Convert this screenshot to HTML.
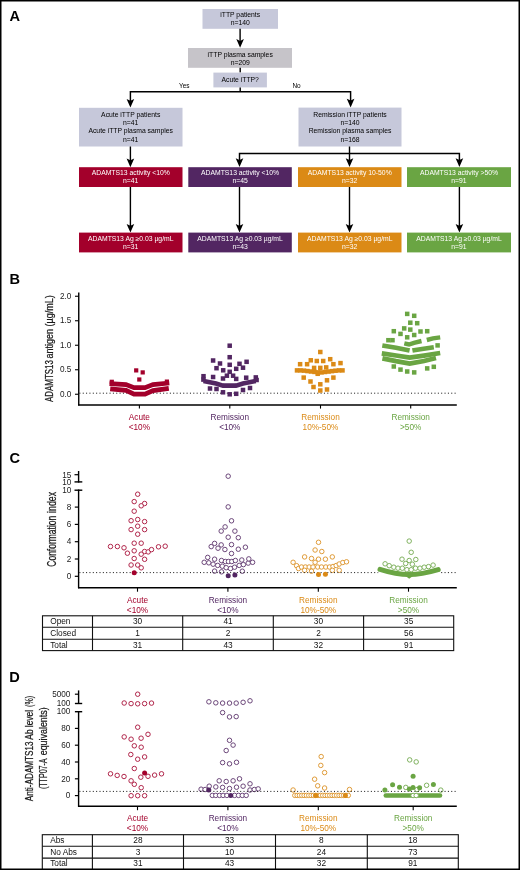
<!DOCTYPE html>
<html><head><meta charset="utf-8"><style>
html,body{margin:0;padding:0;background:#fff;width:520px;height:870px;overflow:hidden;}
svg{display:block;will-change:transform;}
</style></head><body>
<svg width="520" height="870" viewBox="0 0 520 870" font-family="'Liberation Sans', sans-serif">
<rect x="0" y="0" width="520" height="870" fill="#fff"/>
<text x="9.40" y="21.00" font-size="14.6" fill="#000" text-anchor="start" font-weight="bold">A</text>
<rect x="202.50" y="9.00" width="75.50" height="19.80" fill="#C6C8DA" />
<text x="240.20" y="17.00" font-size="6.8" fill="#000" text-anchor="middle" >iTTP patients</text>
<text x="240.20" y="25.00" font-size="6.8" fill="#000" text-anchor="middle" >n=140</text>
<line x1="240.10" y1="28.80" x2="240.10" y2="42.80" stroke="#000" stroke-width="1.4" />
<path d="M240.10,47.80 L236.30,39.10 L240.10,40.90 L243.90,39.10 Z" fill="#000"/>
<rect x="188.00" y="48.00" width="104.00" height="19.80" fill="#C6C4C9" />
<text x="240.20" y="56.60" font-size="6.8" fill="#000" text-anchor="middle" >iTTP plasma samples</text>
<text x="240.20" y="64.60" font-size="6.8" fill="#000" text-anchor="middle" >n=209</text>
<line x1="240.20" y1="67.80" x2="240.20" y2="72.60" stroke="#000" stroke-width="1.4" />
<rect x="213.40" y="72.60" width="53.50" height="14.80" fill="#C6C8DA" />
<text x="240.20" y="82.20" font-size="6.8" fill="#000" text-anchor="middle" >Acute iTTP?</text>
<line x1="240.20" y1="87.40" x2="240.20" y2="91.80" stroke="#000" stroke-width="1.4" />
<path d="M130.4,102.6 V91.8 H350.6 V102.6" fill="none" stroke="#000" stroke-width="1.45" stroke-linejoin="miter"/>
<text x="184.30" y="88.00" font-size="6.46" fill="#000" text-anchor="middle" >Yes</text>
<text x="296.50" y="88.00" font-size="6.46" fill="#000" text-anchor="middle" >No</text>
<path d="M130.40,107.60 L126.60,98.90 L130.40,100.70 L134.20,98.90 Z" fill="#000"/>
<path d="M350.60,107.40 L346.80,98.70 L350.60,100.50 L354.40,98.70 Z" fill="#000"/>
<rect x="79.00" y="107.80" width="103.50" height="38.70" fill="#C6C8DA" />
<text x="130.70" y="117.20" font-size="6.8" fill="#000" text-anchor="middle" >Acute iTTP patients</text>
<text x="130.70" y="125.30" font-size="6.8" fill="#000" text-anchor="middle" >n=41</text>
<text x="130.70" y="133.40" font-size="6.8" fill="#000" text-anchor="middle" >Acute iTTP plasma samples</text>
<text x="130.70" y="141.50" font-size="6.8" fill="#000" text-anchor="middle" >n=41</text>
<rect x="298.50" y="107.60" width="103.00" height="38.90" fill="#C6C8DA" />
<text x="350.00" y="117.20" font-size="6.8" fill="#000" text-anchor="middle" >Remission iTTP patients</text>
<text x="350.00" y="125.30" font-size="6.8" fill="#000" text-anchor="middle" >n=140</text>
<text x="350.00" y="133.40" font-size="6.8" fill="#000" text-anchor="middle" >Remission plasma samples</text>
<text x="350.00" y="141.50" font-size="6.8" fill="#000" text-anchor="middle" >n=168</text>
<line x1="130.40" y1="146.50" x2="130.40" y2="162.20" stroke="#000" stroke-width="1.4" />
<path d="M130.40,167.20 L126.60,158.50 L130.40,160.30 L134.20,158.50 Z" fill="#000"/>
<line x1="349.50" y1="146.50" x2="349.50" y2="162.20" stroke="#000" stroke-width="1.4" />
<path d="M239.5,162.2 V153.4 H459.4 V162.2" fill="none" stroke="#000" stroke-width="1.45" stroke-linejoin="miter"/>
<path d="M239.50,167.00 L235.70,158.30 L239.50,160.10 L243.30,158.30 Z" fill="#000"/>
<path d="M349.50,167.00 L345.70,158.30 L349.50,160.10 L353.30,158.30 Z" fill="#000"/>
<path d="M459.40,167.00 L455.60,158.30 L459.40,160.10 L463.20,158.30 Z" fill="#000"/>
<rect x="79.00" y="167.20" width="103.50" height="19.80" fill="#A3002B" />
<text x="130.75" y="175.40" font-size="6.8" fill="#fff" text-anchor="middle" >ADAMTS13 activity &lt;10%</text>
<text x="130.75" y="183.30" font-size="6.8" fill="#fff" text-anchor="middle" >n=41</text>
<line x1="130.40" y1="187.00" x2="130.40" y2="227.60" stroke="#000" stroke-width="1.4" />
<path d="M130.40,232.60 L126.60,223.90 L130.40,225.70 L134.20,223.90 Z" fill="#000"/>
<rect x="79.00" y="232.60" width="103.50" height="19.80" fill="#A3002B" />
<text x="130.75" y="240.70" font-size="6.8" fill="#fff" text-anchor="middle" >ADAMTS13 Ag ≥0.03 µg/mL</text>
<text x="130.75" y="248.70" font-size="6.8" fill="#fff" text-anchor="middle" >n=31</text>
<rect x="188.30" y="167.20" width="103.50" height="19.80" fill="#522662" />
<text x="240.05" y="175.40" font-size="6.8" fill="#fff" text-anchor="middle" >ADAMTS13 activity &lt;10%</text>
<text x="240.05" y="183.30" font-size="6.8" fill="#fff" text-anchor="middle" >n=45</text>
<line x1="239.50" y1="187.00" x2="239.50" y2="227.60" stroke="#000" stroke-width="1.4" />
<path d="M239.50,232.60 L235.70,223.90 L239.50,225.70 L243.30,223.90 Z" fill="#000"/>
<rect x="188.30" y="232.60" width="103.50" height="19.80" fill="#522662" />
<text x="240.05" y="240.70" font-size="6.8" fill="#fff" text-anchor="middle" >ADAMTS13 Ag ≥0.03 µg/mL</text>
<text x="240.05" y="248.70" font-size="6.8" fill="#fff" text-anchor="middle" >n=43</text>
<rect x="298.00" y="167.20" width="103.50" height="19.80" fill="#DB8A16" />
<text x="349.75" y="175.40" font-size="6.8" fill="#fff" text-anchor="middle" >ADAMTS13 activity 10-50%</text>
<text x="349.75" y="183.30" font-size="6.8" fill="#fff" text-anchor="middle" >n=32</text>
<line x1="349.50" y1="187.00" x2="349.50" y2="227.60" stroke="#000" stroke-width="1.4" />
<path d="M349.50,232.60 L345.70,223.90 L349.50,225.70 L353.30,223.90 Z" fill="#000"/>
<rect x="298.00" y="232.60" width="103.50" height="19.80" fill="#DB8A16" />
<text x="349.75" y="240.70" font-size="6.8" fill="#fff" text-anchor="middle" >ADAMTS13 Ag ≥0.03 µg/mL</text>
<text x="349.75" y="248.70" font-size="6.8" fill="#fff" text-anchor="middle" >n=32</text>
<rect x="407.00" y="167.20" width="104.00" height="19.80" fill="#6AA543" />
<text x="459.00" y="175.40" font-size="6.8" fill="#fff" text-anchor="middle" >ADAMTS13 activity &gt;50%</text>
<text x="459.00" y="183.30" font-size="6.8" fill="#fff" text-anchor="middle" >n=91</text>
<line x1="459.40" y1="187.00" x2="459.40" y2="227.60" stroke="#000" stroke-width="1.4" />
<path d="M459.40,232.60 L455.60,223.90 L459.40,225.70 L463.20,223.90 Z" fill="#000"/>
<rect x="407.00" y="232.60" width="104.00" height="19.80" fill="#6AA543" />
<text x="459.00" y="240.70" font-size="6.8" fill="#fff" text-anchor="middle" >ADAMTS13 Ag ≥0.03 µg/mL</text>
<text x="459.00" y="248.70" font-size="6.8" fill="#fff" text-anchor="middle" >n=91</text>
<text x="9.60" y="284.20" font-size="14.6" fill="#000" text-anchor="start" font-weight="bold">B</text>
<line x1="78.75" y1="292.50" x2="78.75" y2="405.60" stroke="#000" stroke-width="1.4" />
<line x1="78.10" y1="405.00" x2="456.80" y2="405.00" stroke="#000" stroke-width="1.4" />
<line x1="75.00" y1="394.25" x2="78.50" y2="394.25" stroke="#000" stroke-width="1.1" />
<text x="71.40" y="396.95" font-size="8.2" fill="#222" text-anchor="end" >0.0</text>
<line x1="75.00" y1="369.75" x2="78.50" y2="369.75" stroke="#000" stroke-width="1.1" />
<text x="71.40" y="372.45" font-size="8.2" fill="#222" text-anchor="end" >0.5</text>
<line x1="75.00" y1="345.25" x2="78.50" y2="345.25" stroke="#000" stroke-width="1.1" />
<text x="71.40" y="347.95" font-size="8.2" fill="#222" text-anchor="end" >1.0</text>
<line x1="75.00" y1="320.75" x2="78.50" y2="320.75" stroke="#000" stroke-width="1.1" />
<text x="71.40" y="323.45" font-size="8.2" fill="#222" text-anchor="end" >1.5</text>
<line x1="75.00" y1="296.25" x2="78.50" y2="296.25" stroke="#000" stroke-width="1.1" />
<text x="71.40" y="298.95" font-size="8.2" fill="#222" text-anchor="end" >2.0</text>
<text x="0" y="0" font-size="10.9" fill="#1a1a1a" stroke="#1a1a1a" stroke-width="0.25" text-anchor="start" transform="translate(53.0,401.9) rotate(-90)" textLength="41.70" lengthAdjust="spacingAndGlyphs">ADAMTS13</text>
<text x="0" y="0" font-size="10.9" fill="#1a1a1a" stroke="#1a1a1a" stroke-width="0.25" text-anchor="start" transform="translate(53.0,358.4) rotate(-90)" textLength="29.50" lengthAdjust="spacingAndGlyphs">antigen</text>
<text x="0" y="0" font-size="10.9" fill="#1a1a1a" stroke="#1a1a1a" stroke-width="0.25" text-anchor="start" transform="translate(53.0,326.5) rotate(-90)" textLength="31.20" lengthAdjust="spacingAndGlyphs">(µg/mL)</text>
<line x1="139.40" y1="405.00" x2="139.40" y2="408.60" stroke="#000" stroke-width="1.1" />
<line x1="229.80" y1="405.00" x2="229.80" y2="408.60" stroke="#000" stroke-width="1.1" />
<line x1="320.50" y1="405.00" x2="320.50" y2="408.60" stroke="#000" stroke-width="1.1" />
<line x1="410.70" y1="405.00" x2="410.70" y2="408.60" stroke="#000" stroke-width="1.1" />
<text x="139.40" y="420.00" font-size="8.25" fill="#A3002B" text-anchor="middle" >Acute</text>
<text x="139.40" y="429.60" font-size="8.25" fill="#A3002B" text-anchor="middle" >&lt;10%</text>
<text x="229.80" y="420.00" font-size="8.25" fill="#522662" text-anchor="middle" >Remission</text>
<text x="229.80" y="429.60" font-size="8.25" fill="#522662" text-anchor="middle" >&lt;10%</text>
<text x="320.50" y="420.00" font-size="8.25" fill="#DB8A16" text-anchor="middle" >Remission</text>
<text x="320.50" y="429.60" font-size="8.25" fill="#DB8A16" text-anchor="middle" >10%-50%</text>
<text x="410.70" y="420.00" font-size="8.25" fill="#6AA543" text-anchor="middle" >Remission</text>
<text x="410.70" y="429.60" font-size="8.25" fill="#6AA543" text-anchor="middle" >&gt;50%</text>
<text x="9.40" y="463.20" font-size="14.6" fill="#000" text-anchor="start" font-weight="bold">C</text>
<line x1="78.60" y1="471.00" x2="78.60" y2="482.60" stroke="#000" stroke-width="1.4" />
<line x1="74.50" y1="474.70" x2="78.60" y2="474.70" stroke="#000" stroke-width="1.2" />
<line x1="74.50" y1="481.90" x2="82.30" y2="481.90" stroke="#000" stroke-width="1.4" />
<line x1="78.60" y1="489.50" x2="78.60" y2="588.30" stroke="#000" stroke-width="1.4" />
<line x1="74.50" y1="490.20" x2="82.30" y2="490.20" stroke="#000" stroke-width="1.4" />
<line x1="74.80" y1="576.30" x2="78.60" y2="576.30" stroke="#000" stroke-width="1.2" />
<text x="71.40" y="579.00" font-size="8.2" fill="#222" text-anchor="end" >0</text>
<line x1="74.80" y1="559.00" x2="78.60" y2="559.00" stroke="#000" stroke-width="1.2" />
<text x="71.40" y="561.70" font-size="8.2" fill="#222" text-anchor="end" >2</text>
<line x1="74.80" y1="541.70" x2="78.60" y2="541.70" stroke="#000" stroke-width="1.2" />
<text x="71.40" y="544.40" font-size="8.2" fill="#222" text-anchor="end" >4</text>
<line x1="74.80" y1="524.40" x2="78.60" y2="524.40" stroke="#000" stroke-width="1.2" />
<text x="71.40" y="527.10" font-size="8.2" fill="#222" text-anchor="end" >6</text>
<line x1="74.80" y1="507.10" x2="78.60" y2="507.10" stroke="#000" stroke-width="1.2" />
<text x="71.40" y="509.80" font-size="8.2" fill="#222" text-anchor="end" >8</text>
<text x="71.40" y="492.50" font-size="8.2" fill="#222" text-anchor="end" >10</text>
<text x="71.40" y="477.60" font-size="8.2" fill="#222" text-anchor="end" >15</text>
<text x="71.40" y="484.60" font-size="8.2" fill="#222" text-anchor="end" >10</text>
<line x1="78.00" y1="587.70" x2="456.80" y2="587.70" stroke="#000" stroke-width="1.4" />
<text x="0" y="0" font-size="11.9" fill="#1a1a1a" stroke="#1a1a1a" stroke-width="0.25" text-anchor="start" transform="translate(55.6,566.7) rotate(-90)" textLength="50.90" lengthAdjust="spacingAndGlyphs">Conformation</text>
<text x="0" y="0" font-size="11.9" fill="#1a1a1a" stroke="#1a1a1a" stroke-width="0.25" text-anchor="start" transform="translate(55.6,512.9) rotate(-90)" textLength="21.00" lengthAdjust="spacingAndGlyphs">index</text>
<line x1="137.50" y1="587.70" x2="137.50" y2="591.70" stroke="#000" stroke-width="1.1" />
<line x1="227.90" y1="587.70" x2="227.90" y2="591.70" stroke="#000" stroke-width="1.1" />
<line x1="318.30" y1="587.70" x2="318.30" y2="591.70" stroke="#000" stroke-width="1.1" />
<line x1="408.50" y1="587.70" x2="408.50" y2="591.70" stroke="#000" stroke-width="1.1" />
<text x="137.50" y="602.80" font-size="8.25" fill="#A3002B" text-anchor="middle" >Acute</text>
<text x="137.50" y="612.50" font-size="8.25" fill="#A3002B" text-anchor="middle" >&lt;10%</text>
<text x="227.90" y="602.80" font-size="8.25" fill="#522662" text-anchor="middle" >Remission</text>
<text x="227.90" y="612.50" font-size="8.25" fill="#522662" text-anchor="middle" >&lt;10%</text>
<text x="318.30" y="602.80" font-size="8.25" fill="#DB8A16" text-anchor="middle" >Remission</text>
<text x="318.30" y="612.50" font-size="8.25" fill="#DB8A16" text-anchor="middle" >10%-50%</text>
<text x="408.50" y="602.80" font-size="8.25" fill="#6AA543" text-anchor="middle" >Remission</text>
<text x="408.50" y="612.50" font-size="8.25" fill="#6AA543" text-anchor="middle" >&gt;50%</text>
<g stroke="#111" stroke-width="1.1" fill="none">
<rect x="42.5" y="615.80" width="411.20" height="34.80"/>
<line x1="42.5" y1="627.30" x2="453.7" y2="627.30"/>
<line x1="42.5" y1="639.20" x2="453.7" y2="639.20"/>
<line x1="92.5" y1="615.80" x2="92.5" y2="650.60"/>
<line x1="182.7" y1="615.80" x2="182.7" y2="650.60"/>
<line x1="273.3" y1="615.80" x2="273.3" y2="650.60"/>
<line x1="363.6" y1="615.80" x2="363.6" y2="650.60"/>
</g>
<text x="50.20" y="624.20" font-size="8.3" fill="#111" text-anchor="start" >Open</text>
<text x="137.60" y="624.20" font-size="8.3" fill="#111" text-anchor="middle" >30</text>
<text x="228.00" y="624.20" font-size="8.3" fill="#111" text-anchor="middle" >41</text>
<text x="318.45" y="624.20" font-size="8.3" fill="#111" text-anchor="middle" >30</text>
<text x="408.65" y="624.20" font-size="8.3" fill="#111" text-anchor="middle" >35</text>
<text x="50.20" y="636.10" font-size="8.3" fill="#111" text-anchor="start" >Closed</text>
<text x="137.60" y="636.10" font-size="8.3" fill="#111" text-anchor="middle" >1</text>
<text x="228.00" y="636.10" font-size="8.3" fill="#111" text-anchor="middle" >2</text>
<text x="318.45" y="636.10" font-size="8.3" fill="#111" text-anchor="middle" >2</text>
<text x="408.65" y="636.10" font-size="8.3" fill="#111" text-anchor="middle" >56</text>
<text x="50.20" y="647.50" font-size="8.3" fill="#111" text-anchor="start" >Total</text>
<text x="137.60" y="647.50" font-size="8.3" fill="#111" text-anchor="middle" >31</text>
<text x="228.00" y="647.50" font-size="8.3" fill="#111" text-anchor="middle" >43</text>
<text x="318.45" y="647.50" font-size="8.3" fill="#111" text-anchor="middle" >32</text>
<text x="408.65" y="647.50" font-size="8.3" fill="#111" text-anchor="middle" >91</text>
<path d="M380,569.4 C390,572.6 400,574.6 409.2,574.6 C418.5,574.6 428,572.6 438.2,569.6" fill="none" stroke="#6AA543" stroke-width="5.0" stroke-linecap="round"/>
<path d="M405.5,576 L409.2,578.8 L412.9,576 Z" fill="#6AA543"/>
<text x="9.30" y="682.30" font-size="14.6" fill="#000" text-anchor="start" font-weight="bold">D</text>
<line x1="78.60" y1="690.40" x2="78.60" y2="703.80" stroke="#000" stroke-width="1.4" />
<line x1="74.90" y1="694.20" x2="78.60" y2="694.20" stroke="#000" stroke-width="1.2" />
<line x1="74.90" y1="703.50" x2="82.20" y2="703.50" stroke="#000" stroke-width="1.4" />
<line x1="78.60" y1="711.00" x2="78.60" y2="806.90" stroke="#000" stroke-width="1.4" />
<line x1="74.90" y1="711.70" x2="82.20" y2="711.70" stroke="#000" stroke-width="1.4" />
<line x1="74.90" y1="795.60" x2="78.60" y2="795.60" stroke="#000" stroke-width="1.2" />
<text x="70.40" y="798.40" font-size="8.2" fill="#222" text-anchor="end" >0</text>
<line x1="74.90" y1="778.80" x2="78.60" y2="778.80" stroke="#000" stroke-width="1.2" />
<text x="70.40" y="781.60" font-size="8.2" fill="#222" text-anchor="end" >20</text>
<line x1="74.90" y1="762.00" x2="78.60" y2="762.00" stroke="#000" stroke-width="1.2" />
<text x="70.40" y="764.80" font-size="8.2" fill="#222" text-anchor="end" >40</text>
<line x1="74.90" y1="745.20" x2="78.60" y2="745.20" stroke="#000" stroke-width="1.2" />
<text x="70.40" y="748.00" font-size="8.2" fill="#222" text-anchor="end" >60</text>
<line x1="74.90" y1="728.40" x2="78.60" y2="728.40" stroke="#000" stroke-width="1.2" />
<text x="70.40" y="731.20" font-size="8.2" fill="#222" text-anchor="end" >80</text>
<text x="70.40" y="714.30" font-size="8.2" fill="#222" text-anchor="end" >100</text>
<text x="70.40" y="697.00" font-size="8.2" fill="#222" text-anchor="end" >5000</text>
<text x="70.40" y="705.70" font-size="8.2" fill="#222" text-anchor="end" >100</text>
<line x1="78.00" y1="806.30" x2="456.80" y2="806.30" stroke="#000" stroke-width="1.4" />
<text x="0" y="0" font-size="10.8" fill="#1a1a1a" stroke="#1a1a1a" stroke-width="0.25" text-anchor="start" transform="translate(33.0,801.2) rotate(-90)" textLength="59.80" lengthAdjust="spacingAndGlyphs">Anti-ADAMTS13</text>
<text x="0" y="0" font-size="10.8" fill="#1a1a1a" stroke="#1a1a1a" stroke-width="0.25" text-anchor="start" transform="translate(33.0,739.7) rotate(-90)" textLength="10.40" lengthAdjust="spacingAndGlyphs">Ab</text>
<text x="0" y="0" font-size="10.8" fill="#1a1a1a" stroke="#1a1a1a" stroke-width="0.25" text-anchor="start" transform="translate(33.0,727.2) rotate(-90)" textLength="17.20" lengthAdjust="spacingAndGlyphs">level</text>
<text x="0" y="0" font-size="10.8" fill="#1a1a1a" stroke="#1a1a1a" stroke-width="0.25" text-anchor="start" transform="translate(33.0,706.9) rotate(-90)" textLength="11.00" lengthAdjust="spacingAndGlyphs">(%)</text>
<text x="0" y="0" font-size="10.8" fill="#1a1a1a" stroke="#1a1a1a" stroke-width="0.25" text-anchor="start" transform="translate(46.5,789.1) rotate(-90)" textLength="30.70" lengthAdjust="spacingAndGlyphs">(TTP07-A</text>
<text x="0" y="0" font-size="10.8" fill="#1a1a1a" stroke="#1a1a1a" stroke-width="0.25" text-anchor="start" transform="translate(46.5,755.3) rotate(-90)" textLength="48.00" lengthAdjust="spacingAndGlyphs">equivalents)</text>
<line x1="137.50" y1="806.30" x2="137.50" y2="810.20" stroke="#000" stroke-width="1.1" />
<line x1="227.90" y1="806.30" x2="227.90" y2="810.20" stroke="#000" stroke-width="1.1" />
<line x1="318.30" y1="806.30" x2="318.30" y2="810.20" stroke="#000" stroke-width="1.1" />
<line x1="413.20" y1="806.30" x2="413.20" y2="810.20" stroke="#000" stroke-width="1.1" />
<text x="137.50" y="821.10" font-size="8.25" fill="#A3002B" text-anchor="middle" >Acute</text>
<text x="137.50" y="830.60" font-size="8.25" fill="#A3002B" text-anchor="middle" >&lt;10%</text>
<text x="227.90" y="821.10" font-size="8.25" fill="#522662" text-anchor="middle" >Remission</text>
<text x="227.90" y="830.60" font-size="8.25" fill="#522662" text-anchor="middle" >&lt;10%</text>
<text x="318.30" y="821.10" font-size="8.25" fill="#DB8A16" text-anchor="middle" >Remission</text>
<text x="318.30" y="830.60" font-size="8.25" fill="#DB8A16" text-anchor="middle" >10%-50%</text>
<text x="413.20" y="821.10" font-size="8.25" fill="#6AA543" text-anchor="middle" >Remission</text>
<text x="413.20" y="830.60" font-size="8.25" fill="#6AA543" text-anchor="middle" >&gt;50%</text>
<g stroke="#111" stroke-width="1.1" fill="none">
<rect x="42.3" y="834.70" width="416.00" height="34.80"/>
<line x1="42.3" y1="846.30" x2="458.3" y2="846.30"/>
<line x1="42.3" y1="858.10" x2="458.3" y2="858.10"/>
<line x1="92.4" y1="834.70" x2="92.4" y2="869.50"/>
<line x1="183.5" y1="834.70" x2="183.5" y2="869.50"/>
<line x1="275.5" y1="834.70" x2="275.5" y2="869.50"/>
<line x1="367.3" y1="834.70" x2="367.3" y2="869.50"/>
</g>
<text x="50.20" y="843.20" font-size="8.3" fill="#111" text-anchor="start" >Abs</text>
<text x="137.95" y="843.20" font-size="8.3" fill="#111" text-anchor="middle" >28</text>
<text x="229.50" y="843.20" font-size="8.3" fill="#111" text-anchor="middle" >33</text>
<text x="321.40" y="843.20" font-size="8.3" fill="#111" text-anchor="middle" >8</text>
<text x="412.80" y="843.20" font-size="8.3" fill="#111" text-anchor="middle" >18</text>
<text x="50.20" y="855.00" font-size="8.3" fill="#111" text-anchor="start" >No Abs</text>
<text x="137.95" y="855.00" font-size="8.3" fill="#111" text-anchor="middle" >3</text>
<text x="229.50" y="855.00" font-size="8.3" fill="#111" text-anchor="middle" >10</text>
<text x="321.40" y="855.00" font-size="8.3" fill="#111" text-anchor="middle" >24</text>
<text x="412.80" y="855.00" font-size="8.3" fill="#111" text-anchor="middle" >73</text>
<text x="50.20" y="866.40" font-size="8.3" fill="#111" text-anchor="start" >Total</text>
<text x="137.95" y="866.40" font-size="8.3" fill="#111" text-anchor="middle" >31</text>
<text x="229.50" y="866.40" font-size="8.3" fill="#111" text-anchor="middle" >43</text>
<text x="321.40" y="866.40" font-size="8.3" fill="#111" text-anchor="middle" >32</text>
<text x="412.80" y="866.40" font-size="8.3" fill="#111" text-anchor="middle" >91</text>
<line x1="385.8" y1="795.5" x2="440" y2="795.5" stroke="#6AA543" stroke-width="4.6" stroke-linecap="round"/>
<circle cx="137.70" cy="494.20" r="2.25" fill="#fff" stroke="#B1264B" stroke-width="1.0"/>
<circle cx="134.20" cy="501.60" r="2.25" fill="#fff" stroke="#B1264B" stroke-width="1.0"/>
<circle cx="144.60" cy="503.50" r="2.25" fill="#fff" stroke="#B1264B" stroke-width="1.0"/>
<circle cx="141.20" cy="505.80" r="2.25" fill="#fff" stroke="#B1264B" stroke-width="1.0"/>
<circle cx="134.20" cy="511.20" r="2.25" fill="#fff" stroke="#B1264B" stroke-width="1.0"/>
<circle cx="131.10" cy="520.70" r="2.25" fill="#fff" stroke="#B1264B" stroke-width="1.0"/>
<circle cx="137.70" cy="519.50" r="2.25" fill="#fff" stroke="#B1264B" stroke-width="1.0"/>
<circle cx="144.60" cy="521.60" r="2.25" fill="#fff" stroke="#B1264B" stroke-width="1.0"/>
<circle cx="137.70" cy="526.20" r="2.25" fill="#fff" stroke="#B1264B" stroke-width="1.0"/>
<circle cx="131.10" cy="529.60" r="2.25" fill="#fff" stroke="#B1264B" stroke-width="1.0"/>
<circle cx="144.60" cy="529.60" r="2.25" fill="#fff" stroke="#B1264B" stroke-width="1.0"/>
<circle cx="137.70" cy="534.20" r="2.25" fill="#fff" stroke="#B1264B" stroke-width="1.0"/>
<circle cx="134.20" cy="543.20" r="2.25" fill="#fff" stroke="#B1264B" stroke-width="1.0"/>
<circle cx="141.20" cy="543.20" r="2.25" fill="#fff" stroke="#B1264B" stroke-width="1.0"/>
<circle cx="110.50" cy="546.50" r="2.25" fill="#fff" stroke="#B1264B" stroke-width="1.0"/>
<circle cx="117.40" cy="546.50" r="2.25" fill="#fff" stroke="#B1264B" stroke-width="1.0"/>
<circle cx="124.00" cy="547.80" r="2.25" fill="#fff" stroke="#B1264B" stroke-width="1.0"/>
<circle cx="158.50" cy="546.80" r="2.25" fill="#fff" stroke="#B1264B" stroke-width="1.0"/>
<circle cx="165.20" cy="546.20" r="2.25" fill="#fff" stroke="#B1264B" stroke-width="1.0"/>
<circle cx="127.40" cy="553.20" r="2.25" fill="#fff" stroke="#B1264B" stroke-width="1.0"/>
<circle cx="134.20" cy="550.80" r="2.25" fill="#fff" stroke="#B1264B" stroke-width="1.0"/>
<circle cx="144.60" cy="551.50" r="2.25" fill="#fff" stroke="#B1264B" stroke-width="1.0"/>
<circle cx="148.20" cy="551.90" r="2.25" fill="#fff" stroke="#B1264B" stroke-width="1.0"/>
<circle cx="151.50" cy="549.60" r="2.25" fill="#fff" stroke="#B1264B" stroke-width="1.0"/>
<circle cx="141.20" cy="554.20" r="2.25" fill="#fff" stroke="#B1264B" stroke-width="1.0"/>
<circle cx="134.20" cy="558.50" r="2.25" fill="#fff" stroke="#B1264B" stroke-width="1.0"/>
<circle cx="144.60" cy="559.30" r="2.25" fill="#fff" stroke="#B1264B" stroke-width="1.0"/>
<circle cx="131.10" cy="565.00" r="2.25" fill="#fff" stroke="#B1264B" stroke-width="1.0"/>
<circle cx="137.70" cy="565.00" r="2.25" fill="#fff" stroke="#B1264B" stroke-width="1.0"/>
<circle cx="141.20" cy="567.80" r="2.25" fill="#fff" stroke="#B1264B" stroke-width="1.0"/>
<circle cx="228.20" cy="476.20" r="2.25" fill="#fff" stroke="#6C477A" stroke-width="1.0"/>
<circle cx="228.20" cy="506.90" r="2.25" fill="#fff" stroke="#6C477A" stroke-width="1.0"/>
<circle cx="231.50" cy="520.80" r="2.25" fill="#fff" stroke="#6C477A" stroke-width="1.0"/>
<circle cx="225.10" cy="526.90" r="2.25" fill="#fff" stroke="#6C477A" stroke-width="1.0"/>
<circle cx="221.20" cy="531.10" r="2.25" fill="#fff" stroke="#6C477A" stroke-width="1.0"/>
<circle cx="234.90" cy="531.10" r="2.25" fill="#fff" stroke="#6C477A" stroke-width="1.0"/>
<circle cx="228.20" cy="537.20" r="2.25" fill="#fff" stroke="#6C477A" stroke-width="1.0"/>
<circle cx="238.30" cy="537.70" r="2.25" fill="#fff" stroke="#6C477A" stroke-width="1.0"/>
<circle cx="214.60" cy="543.40" r="2.25" fill="#fff" stroke="#6C477A" stroke-width="1.0"/>
<circle cx="211.20" cy="546.60" r="2.25" fill="#fff" stroke="#6C477A" stroke-width="1.0"/>
<circle cx="221.20" cy="544.90" r="2.25" fill="#fff" stroke="#6C477A" stroke-width="1.0"/>
<circle cx="218.00" cy="548.20" r="2.25" fill="#fff" stroke="#6C477A" stroke-width="1.0"/>
<circle cx="231.50" cy="544.60" r="2.25" fill="#fff" stroke="#6C477A" stroke-width="1.0"/>
<circle cx="224.90" cy="549.50" r="2.25" fill="#fff" stroke="#6C477A" stroke-width="1.0"/>
<circle cx="238.30" cy="549.20" r="2.25" fill="#fff" stroke="#6C477A" stroke-width="1.0"/>
<circle cx="245.40" cy="547.20" r="2.25" fill="#fff" stroke="#6C477A" stroke-width="1.0"/>
<circle cx="231.50" cy="553.50" r="2.25" fill="#fff" stroke="#6C477A" stroke-width="1.0"/>
<circle cx="207.70" cy="557.40" r="2.25" fill="#fff" stroke="#6C477A" stroke-width="1.0"/>
<circle cx="214.60" cy="559.20" r="2.25" fill="#fff" stroke="#6C477A" stroke-width="1.0"/>
<circle cx="204.20" cy="562.30" r="2.25" fill="#fff" stroke="#6C477A" stroke-width="1.0"/>
<circle cx="208.80" cy="562.80" r="2.25" fill="#fff" stroke="#6C477A" stroke-width="1.0"/>
<circle cx="213.10" cy="564.20" r="2.25" fill="#fff" stroke="#6C477A" stroke-width="1.0"/>
<circle cx="217.70" cy="565.40" r="2.25" fill="#fff" stroke="#6C477A" stroke-width="1.0"/>
<circle cx="221.50" cy="560.50" r="2.25" fill="#fff" stroke="#6C477A" stroke-width="1.0"/>
<circle cx="225.40" cy="561.50" r="2.25" fill="#fff" stroke="#6C477A" stroke-width="1.0"/>
<circle cx="228.50" cy="561.50" r="2.25" fill="#fff" stroke="#6C477A" stroke-width="1.0"/>
<circle cx="231.80" cy="561.50" r="2.25" fill="#fff" stroke="#6C477A" stroke-width="1.0"/>
<circle cx="235.40" cy="560.50" r="2.25" fill="#fff" stroke="#6C477A" stroke-width="1.0"/>
<circle cx="222.30" cy="566.20" r="2.25" fill="#fff" stroke="#6C477A" stroke-width="1.0"/>
<circle cx="226.20" cy="567.70" r="2.25" fill="#fff" stroke="#6C477A" stroke-width="1.0"/>
<circle cx="230.50" cy="568.50" r="2.25" fill="#fff" stroke="#6C477A" stroke-width="1.0"/>
<circle cx="234.60" cy="567.20" r="2.25" fill="#fff" stroke="#6C477A" stroke-width="1.0"/>
<circle cx="239.20" cy="565.40" r="2.25" fill="#fff" stroke="#6C477A" stroke-width="1.0"/>
<circle cx="243.40" cy="564.60" r="2.25" fill="#fff" stroke="#6C477A" stroke-width="1.0"/>
<circle cx="241.80" cy="560.00" r="2.25" fill="#fff" stroke="#6C477A" stroke-width="1.0"/>
<circle cx="248.20" cy="563.10" r="2.25" fill="#fff" stroke="#6C477A" stroke-width="1.0"/>
<circle cx="248.80" cy="558.90" r="2.25" fill="#fff" stroke="#6C477A" stroke-width="1.0"/>
<circle cx="252.60" cy="562.30" r="2.25" fill="#fff" stroke="#6C477A" stroke-width="1.0"/>
<circle cx="214.60" cy="571.10" r="2.25" fill="#fff" stroke="#6C477A" stroke-width="1.0"/>
<circle cx="221.50" cy="571.80" r="2.25" fill="#fff" stroke="#6C477A" stroke-width="1.0"/>
<circle cx="242.30" cy="571.20" r="2.25" fill="#fff" stroke="#6C477A" stroke-width="1.0"/>
<circle cx="318.50" cy="542.30" r="2.25" fill="#fff" stroke="#E09C39" stroke-width="1.0"/>
<circle cx="315.10" cy="550.00" r="2.25" fill="#fff" stroke="#E09C39" stroke-width="1.0"/>
<circle cx="321.80" cy="551.50" r="2.25" fill="#fff" stroke="#E09C39" stroke-width="1.0"/>
<circle cx="304.60" cy="556.90" r="2.25" fill="#fff" stroke="#E09C39" stroke-width="1.0"/>
<circle cx="311.50" cy="558.50" r="2.25" fill="#fff" stroke="#E09C39" stroke-width="1.0"/>
<circle cx="318.50" cy="559.20" r="2.25" fill="#fff" stroke="#E09C39" stroke-width="1.0"/>
<circle cx="325.40" cy="559.20" r="2.25" fill="#fff" stroke="#E09C39" stroke-width="1.0"/>
<circle cx="332.30" cy="556.90" r="2.25" fill="#fff" stroke="#E09C39" stroke-width="1.0"/>
<circle cx="315.10" cy="562.30" r="2.25" fill="#fff" stroke="#E09C39" stroke-width="1.0"/>
<circle cx="293.10" cy="562.30" r="2.25" fill="#fff" stroke="#E09C39" stroke-width="1.0"/>
<circle cx="296.60" cy="565.70" r="2.25" fill="#fff" stroke="#E09C39" stroke-width="1.0"/>
<circle cx="298.50" cy="568.50" r="2.25" fill="#fff" stroke="#E09C39" stroke-width="1.0"/>
<circle cx="301.50" cy="567.00" r="2.25" fill="#fff" stroke="#E09C39" stroke-width="1.0"/>
<circle cx="305.40" cy="567.00" r="2.25" fill="#fff" stroke="#E09C39" stroke-width="1.0"/>
<circle cx="309.20" cy="567.00" r="2.25" fill="#fff" stroke="#E09C39" stroke-width="1.0"/>
<circle cx="313.00" cy="567.00" r="2.25" fill="#fff" stroke="#E09C39" stroke-width="1.0"/>
<circle cx="317.70" cy="567.00" r="2.25" fill="#fff" stroke="#E09C39" stroke-width="1.0"/>
<circle cx="321.50" cy="567.00" r="2.25" fill="#fff" stroke="#E09C39" stroke-width="1.0"/>
<circle cx="325.80" cy="567.00" r="2.25" fill="#fff" stroke="#E09C39" stroke-width="1.0"/>
<circle cx="329.50" cy="567.00" r="2.25" fill="#fff" stroke="#E09C39" stroke-width="1.0"/>
<circle cx="333.00" cy="566.50" r="2.25" fill="#fff" stroke="#E09C39" stroke-width="1.0"/>
<circle cx="336.20" cy="565.50" r="2.25" fill="#fff" stroke="#E09C39" stroke-width="1.0"/>
<circle cx="339.20" cy="564.00" r="2.25" fill="#fff" stroke="#E09C39" stroke-width="1.0"/>
<circle cx="342.80" cy="562.50" r="2.25" fill="#fff" stroke="#E09C39" stroke-width="1.0"/>
<circle cx="346.50" cy="561.80" r="2.25" fill="#fff" stroke="#E09C39" stroke-width="1.0"/>
<circle cx="304.60" cy="570.30" r="2.25" fill="#fff" stroke="#E09C39" stroke-width="1.0"/>
<circle cx="311.50" cy="571.20" r="2.25" fill="#fff" stroke="#E09C39" stroke-width="1.0"/>
<circle cx="332.30" cy="570.30" r="2.25" fill="#fff" stroke="#E09C39" stroke-width="1.0"/>
<circle cx="339.20" cy="570.30" r="2.25" fill="#fff" stroke="#E09C39" stroke-width="1.0"/>
<circle cx="409.20" cy="541.10" r="2.25" fill="#fff" stroke="#80B25F" stroke-width="1.0"/>
<circle cx="411.20" cy="552.30" r="2.25" fill="#fff" stroke="#80B25F" stroke-width="1.0"/>
<circle cx="402.00" cy="559.20" r="2.25" fill="#fff" stroke="#80B25F" stroke-width="1.0"/>
<circle cx="409.20" cy="560.50" r="2.25" fill="#fff" stroke="#80B25F" stroke-width="1.0"/>
<circle cx="415.80" cy="559.50" r="2.25" fill="#fff" stroke="#80B25F" stroke-width="1.0"/>
<circle cx="405.70" cy="563.50" r="2.25" fill="#fff" stroke="#80B25F" stroke-width="1.0"/>
<circle cx="412.30" cy="564.20" r="2.25" fill="#fff" stroke="#80B25F" stroke-width="1.0"/>
<circle cx="385.10" cy="563.80" r="2.25" fill="#fff" stroke="#80B25F" stroke-width="1.0"/>
<circle cx="389.20" cy="565.70" r="2.25" fill="#fff" stroke="#80B25F" stroke-width="1.0"/>
<circle cx="393.80" cy="567.20" r="2.25" fill="#fff" stroke="#80B25F" stroke-width="1.0"/>
<circle cx="398.00" cy="568.20" r="2.25" fill="#fff" stroke="#80B25F" stroke-width="1.0"/>
<circle cx="402.30" cy="568.20" r="2.25" fill="#fff" stroke="#80B25F" stroke-width="1.0"/>
<circle cx="406.90" cy="569.70" r="2.25" fill="#fff" stroke="#80B25F" stroke-width="1.0"/>
<circle cx="411.20" cy="569.70" r="2.25" fill="#fff" stroke="#80B25F" stroke-width="1.0"/>
<circle cx="415.50" cy="568.20" r="2.25" fill="#fff" stroke="#80B25F" stroke-width="1.0"/>
<circle cx="420.00" cy="568.20" r="2.25" fill="#fff" stroke="#80B25F" stroke-width="1.0"/>
<circle cx="424.20" cy="567.20" r="2.25" fill="#fff" stroke="#80B25F" stroke-width="1.0"/>
<circle cx="428.50" cy="566.60" r="2.25" fill="#fff" stroke="#80B25F" stroke-width="1.0"/>
<circle cx="433.10" cy="565.10" r="2.25" fill="#fff" stroke="#80B25F" stroke-width="1.0"/>
<circle cx="137.70" cy="694.20" r="2.25" fill="#fff" stroke="#B1264B" stroke-width="1.0"/>
<circle cx="124.20" cy="703.00" r="2.25" fill="#fff" stroke="#B1264B" stroke-width="1.0"/>
<circle cx="131.10" cy="703.60" r="2.25" fill="#fff" stroke="#B1264B" stroke-width="1.0"/>
<circle cx="137.70" cy="703.80" r="2.25" fill="#fff" stroke="#B1264B" stroke-width="1.0"/>
<circle cx="144.60" cy="703.60" r="2.25" fill="#fff" stroke="#B1264B" stroke-width="1.0"/>
<circle cx="151.50" cy="703.10" r="2.25" fill="#fff" stroke="#B1264B" stroke-width="1.0"/>
<circle cx="137.70" cy="727.20" r="2.25" fill="#fff" stroke="#B1264B" stroke-width="1.0"/>
<circle cx="124.20" cy="736.90" r="2.25" fill="#fff" stroke="#B1264B" stroke-width="1.0"/>
<circle cx="131.10" cy="739.20" r="2.25" fill="#fff" stroke="#B1264B" stroke-width="1.0"/>
<circle cx="141.10" cy="738.20" r="2.25" fill="#fff" stroke="#B1264B" stroke-width="1.0"/>
<circle cx="148.00" cy="734.30" r="2.25" fill="#fff" stroke="#B1264B" stroke-width="1.0"/>
<circle cx="134.30" cy="745.80" r="2.25" fill="#fff" stroke="#B1264B" stroke-width="1.0"/>
<circle cx="141.20" cy="747.20" r="2.25" fill="#fff" stroke="#B1264B" stroke-width="1.0"/>
<circle cx="130.80" cy="754.50" r="2.25" fill="#fff" stroke="#B1264B" stroke-width="1.0"/>
<circle cx="137.70" cy="759.20" r="2.25" fill="#fff" stroke="#B1264B" stroke-width="1.0"/>
<circle cx="144.60" cy="756.90" r="2.25" fill="#fff" stroke="#B1264B" stroke-width="1.0"/>
<circle cx="134.30" cy="768.50" r="2.25" fill="#fff" stroke="#B1264B" stroke-width="1.0"/>
<circle cx="110.50" cy="773.80" r="2.25" fill="#fff" stroke="#B1264B" stroke-width="1.0"/>
<circle cx="117.20" cy="775.40" r="2.25" fill="#fff" stroke="#B1264B" stroke-width="1.0"/>
<circle cx="124.00" cy="776.50" r="2.25" fill="#fff" stroke="#B1264B" stroke-width="1.0"/>
<circle cx="131.10" cy="780.80" r="2.25" fill="#fff" stroke="#B1264B" stroke-width="1.0"/>
<circle cx="134.30" cy="784.30" r="2.25" fill="#fff" stroke="#B1264B" stroke-width="1.0"/>
<circle cx="140.80" cy="777.20" r="2.25" fill="#fff" stroke="#B1264B" stroke-width="1.0"/>
<circle cx="148.00" cy="776.30" r="2.25" fill="#fff" stroke="#B1264B" stroke-width="1.0"/>
<circle cx="154.60" cy="775.10" r="2.25" fill="#fff" stroke="#B1264B" stroke-width="1.0"/>
<circle cx="161.50" cy="773.80" r="2.25" fill="#fff" stroke="#B1264B" stroke-width="1.0"/>
<circle cx="141.20" cy="787.70" r="2.25" fill="#fff" stroke="#B1264B" stroke-width="1.0"/>
<circle cx="131.10" cy="795.70" r="2.25" fill="#fff" stroke="#B1264B" stroke-width="1.0"/>
<circle cx="137.70" cy="795.70" r="2.25" fill="#fff" stroke="#B1264B" stroke-width="1.0"/>
<circle cx="144.60" cy="795.70" r="2.25" fill="#fff" stroke="#B1264B" stroke-width="1.0"/>
<circle cx="208.90" cy="701.80" r="2.25" fill="#fff" stroke="#6C477A" stroke-width="1.0"/>
<circle cx="215.80" cy="702.80" r="2.25" fill="#fff" stroke="#6C477A" stroke-width="1.0"/>
<circle cx="222.60" cy="703.10" r="2.25" fill="#fff" stroke="#6C477A" stroke-width="1.0"/>
<circle cx="229.50" cy="703.10" r="2.25" fill="#fff" stroke="#6C477A" stroke-width="1.0"/>
<circle cx="236.20" cy="703.10" r="2.25" fill="#fff" stroke="#6C477A" stroke-width="1.0"/>
<circle cx="243.10" cy="702.30" r="2.25" fill="#fff" stroke="#6C477A" stroke-width="1.0"/>
<circle cx="250.00" cy="700.80" r="2.25" fill="#fff" stroke="#6C477A" stroke-width="1.0"/>
<circle cx="222.60" cy="712.60" r="2.25" fill="#fff" stroke="#6C477A" stroke-width="1.0"/>
<circle cx="229.50" cy="716.90" r="2.25" fill="#fff" stroke="#6C477A" stroke-width="1.0"/>
<circle cx="236.20" cy="716.60" r="2.25" fill="#fff" stroke="#6C477A" stroke-width="1.0"/>
<circle cx="229.50" cy="740.30" r="2.25" fill="#fff" stroke="#6C477A" stroke-width="1.0"/>
<circle cx="233.10" cy="745.10" r="2.25" fill="#fff" stroke="#6C477A" stroke-width="1.0"/>
<circle cx="226.20" cy="750.50" r="2.25" fill="#fff" stroke="#6C477A" stroke-width="1.0"/>
<circle cx="222.60" cy="762.60" r="2.25" fill="#fff" stroke="#6C477A" stroke-width="1.0"/>
<circle cx="229.50" cy="763.80" r="2.25" fill="#fff" stroke="#6C477A" stroke-width="1.0"/>
<circle cx="236.50" cy="762.30" r="2.25" fill="#fff" stroke="#6C477A" stroke-width="1.0"/>
<circle cx="219.20" cy="780.80" r="2.25" fill="#fff" stroke="#6C477A" stroke-width="1.0"/>
<circle cx="226.20" cy="781.50" r="2.25" fill="#fff" stroke="#6C477A" stroke-width="1.0"/>
<circle cx="233.10" cy="780.80" r="2.25" fill="#fff" stroke="#6C477A" stroke-width="1.0"/>
<circle cx="239.50" cy="778.80" r="2.25" fill="#fff" stroke="#6C477A" stroke-width="1.0"/>
<circle cx="250.00" cy="783.80" r="2.25" fill="#fff" stroke="#6C477A" stroke-width="1.0"/>
<circle cx="209.20" cy="786.20" r="2.25" fill="#fff" stroke="#6C477A" stroke-width="1.0"/>
<circle cx="215.80" cy="786.90" r="2.25" fill="#fff" stroke="#6C477A" stroke-width="1.0"/>
<circle cx="222.60" cy="787.40" r="2.25" fill="#fff" stroke="#6C477A" stroke-width="1.0"/>
<circle cx="229.50" cy="788.50" r="2.25" fill="#fff" stroke="#6C477A" stroke-width="1.0"/>
<circle cx="236.50" cy="787.20" r="2.25" fill="#fff" stroke="#6C477A" stroke-width="1.0"/>
<circle cx="243.10" cy="786.20" r="2.25" fill="#fff" stroke="#6C477A" stroke-width="1.0"/>
<circle cx="201.10" cy="789.20" r="2.25" fill="#fff" stroke="#6C477A" stroke-width="1.0"/>
<circle cx="205.10" cy="789.50" r="2.25" fill="#fff" stroke="#6C477A" stroke-width="1.0"/>
<circle cx="250.00" cy="790.00" r="2.25" fill="#fff" stroke="#6C477A" stroke-width="1.0"/>
<circle cx="254.30" cy="789.50" r="2.25" fill="#fff" stroke="#6C477A" stroke-width="1.0"/>
<circle cx="258.20" cy="788.90" r="2.25" fill="#fff" stroke="#6C477A" stroke-width="1.0"/>
<circle cx="212.30" cy="795.40" r="2.25" fill="#fff" stroke="#6C477A" stroke-width="1.0"/>
<circle cx="215.80" cy="795.40" r="2.25" fill="#fff" stroke="#6C477A" stroke-width="1.0"/>
<circle cx="219.50" cy="795.40" r="2.25" fill="#fff" stroke="#6C477A" stroke-width="1.0"/>
<circle cx="223.10" cy="795.40" r="2.25" fill="#fff" stroke="#6C477A" stroke-width="1.0"/>
<circle cx="226.90" cy="795.40" r="2.25" fill="#fff" stroke="#6C477A" stroke-width="1.0"/>
<circle cx="234.60" cy="795.40" r="2.25" fill="#fff" stroke="#6C477A" stroke-width="1.0"/>
<circle cx="238.50" cy="795.40" r="2.25" fill="#fff" stroke="#6C477A" stroke-width="1.0"/>
<circle cx="242.30" cy="795.40" r="2.25" fill="#fff" stroke="#6C477A" stroke-width="1.0"/>
<circle cx="246.20" cy="795.40" r="2.25" fill="#fff" stroke="#6C477A" stroke-width="1.0"/>
<circle cx="321.20" cy="756.60" r="2.25" fill="#fff" stroke="#E09C39" stroke-width="1.0"/>
<circle cx="320.80" cy="765.40" r="2.25" fill="#fff" stroke="#E09C39" stroke-width="1.0"/>
<circle cx="324.60" cy="772.60" r="2.25" fill="#fff" stroke="#E09C39" stroke-width="1.0"/>
<circle cx="314.60" cy="779.20" r="2.25" fill="#fff" stroke="#E09C39" stroke-width="1.0"/>
<circle cx="317.70" cy="785.80" r="2.25" fill="#fff" stroke="#E09C39" stroke-width="1.0"/>
<circle cx="324.60" cy="788.00" r="2.25" fill="#fff" stroke="#E09C39" stroke-width="1.0"/>
<circle cx="293.10" cy="790.00" r="2.25" fill="#fff" stroke="#E09C39" stroke-width="1.0"/>
<circle cx="349.50" cy="789.50" r="2.25" fill="#fff" stroke="#E09C39" stroke-width="1.0"/>
<circle cx="294.80" cy="795.40" r="2.25" fill="#fff" stroke="#E09C39" stroke-width="1.0"/>
<circle cx="297.13" cy="795.40" r="2.25" fill="#fff" stroke="#E09C39" stroke-width="1.0"/>
<circle cx="299.45" cy="795.40" r="2.25" fill="#fff" stroke="#E09C39" stroke-width="1.0"/>
<circle cx="301.78" cy="795.40" r="2.25" fill="#fff" stroke="#E09C39" stroke-width="1.0"/>
<circle cx="304.10" cy="795.40" r="2.25" fill="#fff" stroke="#E09C39" stroke-width="1.0"/>
<circle cx="306.43" cy="795.40" r="2.25" fill="#fff" stroke="#E09C39" stroke-width="1.0"/>
<circle cx="308.76" cy="795.40" r="2.25" fill="#fff" stroke="#E09C39" stroke-width="1.0"/>
<circle cx="311.08" cy="795.40" r="2.25" fill="#fff" stroke="#E09C39" stroke-width="1.0"/>
<circle cx="313.41" cy="795.40" r="2.25" fill="#fff" stroke="#E09C39" stroke-width="1.0"/>
<circle cx="315.73" cy="795.40" r="2.25" fill="#fff" stroke="#E09C39" stroke-width="1.0"/>
<circle cx="318.06" cy="795.40" r="2.25" fill="#fff" stroke="#E09C39" stroke-width="1.0"/>
<circle cx="320.39" cy="795.40" r="2.25" fill="#fff" stroke="#E09C39" stroke-width="1.0"/>
<circle cx="322.71" cy="795.40" r="2.25" fill="#fff" stroke="#E09C39" stroke-width="1.0"/>
<circle cx="325.04" cy="795.40" r="2.25" fill="#fff" stroke="#E09C39" stroke-width="1.0"/>
<circle cx="327.37" cy="795.40" r="2.25" fill="#fff" stroke="#E09C39" stroke-width="1.0"/>
<circle cx="329.69" cy="795.40" r="2.25" fill="#fff" stroke="#E09C39" stroke-width="1.0"/>
<circle cx="332.02" cy="795.40" r="2.25" fill="#fff" stroke="#E09C39" stroke-width="1.0"/>
<circle cx="334.34" cy="795.40" r="2.25" fill="#fff" stroke="#E09C39" stroke-width="1.0"/>
<circle cx="336.67" cy="795.40" r="2.25" fill="#fff" stroke="#E09C39" stroke-width="1.0"/>
<circle cx="339.00" cy="795.40" r="2.25" fill="#fff" stroke="#E09C39" stroke-width="1.0"/>
<circle cx="341.32" cy="795.40" r="2.25" fill="#fff" stroke="#E09C39" stroke-width="1.0"/>
<circle cx="343.65" cy="795.40" r="2.25" fill="#fff" stroke="#E09C39" stroke-width="1.0"/>
<circle cx="345.97" cy="795.40" r="2.25" fill="#fff" stroke="#E09C39" stroke-width="1.0"/>
<circle cx="348.30" cy="795.40" r="2.25" fill="#fff" stroke="#E09C39" stroke-width="1.0"/>
<circle cx="409.70" cy="759.90" r="2.25" fill="#fff" stroke="#80B25F" stroke-width="1.0"/>
<circle cx="416.20" cy="761.90" r="2.25" fill="#fff" stroke="#80B25F" stroke-width="1.0"/>
<circle cx="405.80" cy="787.40" r="2.25" fill="#fff" stroke="#80B25F" stroke-width="1.0"/>
<circle cx="417.00" cy="789.50" r="2.25" fill="#fff" stroke="#80B25F" stroke-width="1.0"/>
<circle cx="426.60" cy="785.30" r="2.25" fill="#fff" stroke="#80B25F" stroke-width="1.0"/>
<circle cx="440.80" cy="790.10" r="2.25" fill="#fff" stroke="#80B25F" stroke-width="1.0"/>
<line x1="79.4" y1="393.20" x2="456.5" y2="393.20" stroke="#111" stroke-width="1.0" stroke-dasharray="1 2.35"/>
<line x1="79.4" y1="572.60" x2="378.2" y2="572.60" stroke="#111" stroke-width="1.0" stroke-dasharray="1 2.35"/>
<line x1="441.2" y1="572.60" x2="456.5" y2="572.60" stroke="#111" stroke-width="1.0" stroke-dasharray="1 2.35"/>
<line x1="79.4" y1="791.40" x2="456.5" y2="791.40" stroke="#111" stroke-width="1.0" stroke-dasharray="1 2.35"/>
<rect x="134.10" y="368.30" width="4.2" height="4.2" fill="#A3002B"/>
<rect x="140.60" y="370.30" width="4.2" height="4.2" fill="#A3002B"/>
<rect x="137.20" y="377.40" width="4.2" height="4.2" fill="#A3002B"/>
<polyline points="109.5,383.6 126,384.6 134,387.6 145,387.6 153,384.6 169.3,383" fill="none" stroke="#A3002B" stroke-width="4.6"/>
<polyline points="110.2,388.9 126,390.4 134,394.2 145,394.2 153,390.6 168.8,388.4" fill="none" stroke="#A3002B" stroke-width="4.8"/>
<rect x="109.70" y="379.70" width="4.2" height="4.2" fill="#A3002B"/>
<rect x="164.80" y="379.50" width="4.2" height="4.2" fill="#A3002B"/>
<rect x="227.45" y="343.45" width="4.5" height="4.5" fill="#522662"/>
<rect x="227.45" y="354.95" width="4.5" height="4.5" fill="#522662"/>
<rect x="210.85" y="358.25" width="4.5" height="4.5" fill="#522662"/>
<rect x="244.35" y="359.55" width="4.5" height="4.5" fill="#522662"/>
<rect x="217.75" y="361.25" width="4.5" height="4.5" fill="#522662"/>
<rect x="237.25" y="361.55" width="4.5" height="4.5" fill="#522662"/>
<rect x="227.45" y="362.55" width="4.5" height="4.5" fill="#522662"/>
<rect x="214.25" y="365.95" width="4.5" height="4.5" fill="#522662"/>
<rect x="240.75" y="365.45" width="4.5" height="4.5" fill="#522662"/>
<rect x="220.95" y="368.05" width="4.5" height="4.5" fill="#522662"/>
<rect x="233.95" y="366.55" width="4.5" height="4.5" fill="#522662"/>
<rect x="227.45" y="369.55" width="4.5" height="4.5" fill="#522662"/>
<rect x="224.65" y="373.45" width="4.5" height="4.5" fill="#522662"/>
<rect x="230.85" y="373.45" width="4.5" height="4.5" fill="#522662"/>
<rect x="201.25" y="373.95" width="4.5" height="4.5" fill="#522662"/>
<rect x="210.85" y="374.75" width="4.5" height="4.5" fill="#522662"/>
<rect x="220.75" y="376.25" width="4.5" height="4.5" fill="#522662"/>
<rect x="233.95" y="376.65" width="4.5" height="4.5" fill="#522662"/>
<rect x="243.95" y="375.45" width="4.5" height="4.5" fill="#522662"/>
<rect x="253.55" y="375.15" width="4.5" height="4.5" fill="#522662"/>
<rect x="207.75" y="386.25" width="4.5" height="4.5" fill="#522662"/>
<rect x="214.25" y="386.75" width="4.5" height="4.5" fill="#522662"/>
<rect x="220.75" y="390.05" width="4.5" height="4.5" fill="#522662"/>
<rect x="227.45" y="392.05" width="4.5" height="4.5" fill="#522662"/>
<rect x="233.95" y="391.55" width="4.5" height="4.5" fill="#522662"/>
<rect x="240.75" y="387.75" width="4.5" height="4.5" fill="#522662"/>
<rect x="247.75" y="385.75" width="4.5" height="4.5" fill="#522662"/>
<rect x="201.15" y="377.35" width="4.5" height="4.5" fill="#522662"/>
<rect x="254.35" y="377.75" width="4.5" height="4.5" fill="#522662"/>
<polyline points="203.5,381 216,383.5 223,385.6 236,385.6 243,383.5 255.8,381" fill="none" stroke="#522662" stroke-width="4.6"/>
<rect x="318.05" y="349.75" width="4.5" height="4.5" fill="#DB8A16"/>
<rect x="308.55" y="358.05" width="4.5" height="4.5" fill="#DB8A16"/>
<rect x="314.55" y="358.75" width="4.5" height="4.5" fill="#DB8A16"/>
<rect x="320.95" y="358.75" width="4.5" height="4.5" fill="#DB8A16"/>
<rect x="327.95" y="356.95" width="4.5" height="4.5" fill="#DB8A16"/>
<rect x="297.85" y="361.95" width="4.5" height="4.5" fill="#DB8A16"/>
<rect x="304.85" y="361.95" width="4.5" height="4.5" fill="#DB8A16"/>
<rect x="331.15" y="361.95" width="4.5" height="4.5" fill="#DB8A16"/>
<rect x="338.25" y="360.85" width="4.5" height="4.5" fill="#DB8A16"/>
<rect x="311.85" y="365.65" width="4.5" height="4.5" fill="#DB8A16"/>
<rect x="318.05" y="365.65" width="4.5" height="4.5" fill="#DB8A16"/>
<rect x="323.95" y="365.15" width="4.5" height="4.5" fill="#DB8A16"/>
<rect x="315.45" y="371.55" width="4.5" height="4.5" fill="#DB8A16"/>
<rect x="301.45" y="375.35" width="4.5" height="4.5" fill="#DB8A16"/>
<rect x="331.15" y="375.35" width="4.5" height="4.5" fill="#DB8A16"/>
<rect x="308.25" y="379.25" width="4.5" height="4.5" fill="#DB8A16"/>
<rect x="324.75" y="378.05" width="4.5" height="4.5" fill="#DB8A16"/>
<rect x="318.05" y="382.05" width="4.5" height="4.5" fill="#DB8A16"/>
<rect x="311.25" y="384.75" width="4.5" height="4.5" fill="#DB8A16"/>
<rect x="318.05" y="388.25" width="4.5" height="4.5" fill="#DB8A16"/>
<rect x="324.75" y="387.25" width="4.5" height="4.5" fill="#DB8A16"/>
<rect x="294.75" y="368.15" width="4.5" height="4.5" fill="#DB8A16"/>
<rect x="298.25" y="368.15" width="4.5" height="4.5" fill="#DB8A16"/>
<rect x="301.75" y="368.39" width="4.5" height="4.5" fill="#DB8A16"/>
<rect x="305.25" y="368.82" width="4.5" height="4.5" fill="#DB8A16"/>
<rect x="308.75" y="369.25" width="4.5" height="4.5" fill="#DB8A16"/>
<rect x="312.25" y="369.68" width="4.5" height="4.5" fill="#DB8A16"/>
<rect x="315.75" y="370.11" width="4.5" height="4.5" fill="#DB8A16"/>
<rect x="319.25" y="370.17" width="4.5" height="4.5" fill="#DB8A16"/>
<rect x="322.75" y="369.74" width="4.5" height="4.5" fill="#DB8A16"/>
<rect x="326.25" y="369.31" width="4.5" height="4.5" fill="#DB8A16"/>
<rect x="329.75" y="368.88" width="4.5" height="4.5" fill="#DB8A16"/>
<rect x="333.25" y="368.46" width="4.5" height="4.5" fill="#DB8A16"/>
<rect x="336.75" y="368.15" width="4.5" height="4.5" fill="#DB8A16"/>
<rect x="340.25" y="368.15" width="4.5" height="4.5" fill="#DB8A16"/>
<rect x="404.95" y="311.65" width="4.5" height="4.5" fill="#6AA543"/>
<rect x="411.95" y="313.55" width="4.5" height="4.5" fill="#6AA543"/>
<rect x="408.05" y="320.45" width="4.5" height="4.5" fill="#6AA543"/>
<rect x="414.95" y="320.95" width="4.5" height="4.5" fill="#6AA543"/>
<rect x="401.95" y="326.15" width="4.5" height="4.5" fill="#6AA543"/>
<rect x="408.05" y="327.35" width="4.5" height="4.5" fill="#6AA543"/>
<rect x="391.55" y="328.95" width="4.5" height="4.5" fill="#6AA543"/>
<rect x="398.25" y="331.65" width="4.5" height="4.5" fill="#6AA543"/>
<rect x="411.95" y="332.75" width="4.5" height="4.5" fill="#6AA543"/>
<rect x="418.25" y="329.25" width="4.5" height="4.5" fill="#6AA543"/>
<rect x="424.95" y="328.95" width="4.5" height="4.5" fill="#6AA543"/>
<rect x="404.95" y="335.05" width="4.5" height="4.5" fill="#6AA543"/>
<rect x="386.15" y="337.95" width="4.5" height="4.5" fill="#6AA543"/>
<rect x="390.25" y="337.95" width="4.5" height="4.5" fill="#6AA543"/>
<rect x="435.35" y="343.15" width="4.5" height="4.5" fill="#6AA543"/>
<rect x="391.55" y="364.25" width="4.5" height="4.5" fill="#6AA543"/>
<rect x="398.25" y="367.35" width="4.5" height="4.5" fill="#6AA543"/>
<rect x="404.95" y="369.25" width="4.5" height="4.5" fill="#6AA543"/>
<rect x="411.95" y="370.15" width="4.5" height="4.5" fill="#6AA543"/>
<rect x="424.95" y="366.15" width="4.5" height="4.5" fill="#6AA543"/>
<rect x="431.55" y="364.55" width="4.5" height="4.5" fill="#6AA543"/>
<polyline points="382.3,345.5 396,347.8 409.6,350.6" fill="none" stroke="#6AA543" stroke-width="4.6"/>
<polyline points="412.4,350.6 422,348.9 433.8,347.2" fill="none" stroke="#6AA543" stroke-width="4.6"/>
<polyline points="381.8,353.3 396,355.5 409.7,357.6 424,355.6 440.2,353" fill="none" stroke="#6AA543" stroke-width="4.8"/>
<polyline points="382.4,358.4 396,361.2 409.7,363.6 424,361 436,358" fill="none" stroke="#6AA543" stroke-width="4.8"/>
<polyline points="404.3,343.4 409,344.5 414,342.8 421.5,341" fill="none" stroke="#6AA543" stroke-width="4.4"/>
<polyline points="426.8,340 433,338.4 440.2,337.4" fill="none" stroke="#6AA543" stroke-width="4.4"/>
<circle cx="134.20" cy="572.70" r="2.5" fill="#A3002B"/>
<circle cx="228.20" cy="575.80" r="2.5" fill="#522662"/>
<circle cx="234.90" cy="575.10" r="2.5" fill="#522662"/>
<circle cx="318.50" cy="574.60" r="2.5" fill="#DB8A16"/>
<circle cx="325.40" cy="574.30" r="2.5" fill="#DB8A16"/>
<circle cx="144.60" cy="773.10" r="2.5" fill="#A3002B"/>
<circle cx="208.80" cy="790.00" r="2.5" fill="#522662"/>
<circle cx="230.80" cy="795.40" r="2.5" fill="#522662"/>
<circle cx="315.70" cy="795.40" r="2.5" fill="#DB8A16"/>
<circle cx="345.40" cy="795.40" r="2.5" fill="#DB8A16"/>
<circle cx="413.10" cy="776.20" r="2.5" fill="#6AA543"/>
<circle cx="392.60" cy="784.70" r="2.5" fill="#6AA543"/>
<circle cx="399.50" cy="787.30" r="2.5" fill="#6AA543"/>
<circle cx="409.40" cy="789.00" r="2.5" fill="#6AA543"/>
<circle cx="413.00" cy="787.60" r="2.5" fill="#6AA543"/>
<circle cx="419.60" cy="787.80" r="2.5" fill="#6AA543"/>
<circle cx="433.40" cy="784.40" r="2.5" fill="#6AA543"/>
<circle cx="384.90" cy="789.90" r="2.5" fill="#6AA543"/>
<circle cx="413.10" cy="795.50" r="2.25" fill="#fff" stroke="#80B25F" stroke-width="1.0"/>
<circle cx="416.20" cy="795.50" r="2.25" fill="#fff" stroke="#80B25F" stroke-width="1.0"/>
<rect x="0.75" y="0.75" width="518.5" height="868.5" fill="none" stroke="#000" stroke-width="1.5"/>
</svg>
</body></html>
